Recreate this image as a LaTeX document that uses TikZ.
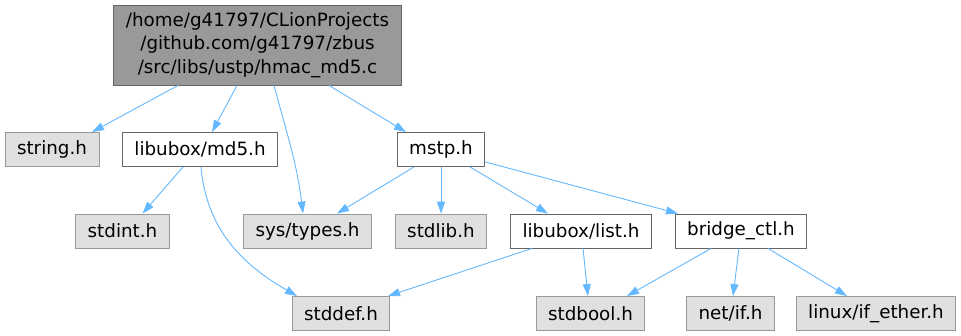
\documentclass[tikz,border=0pt]{standalone}
\usepackage{fontspec}
\setmainfont{DejaVu Sans}
\usetikzlibrary{arrows.meta}
\definecolor{edgeblue}{HTML}{63B8FF}
\definecolor{rootgray}{HTML}{999999}
\definecolor{darkline}{HTML}{666666}
\definecolor{lightfill}{HTML}{E0E0E0}

\begin{document}
\begin{tikzpicture}[
    x=1pt, y=1pt,
    box/.style={rectangle, draw=darkline, fill=white, line width=0.9pt, minimum height=34pt, inner xsep=12pt, font=\fontsize{18.3}{23.5}\selectfont, align=center},
    sysbox/.style={box, draw=rootgray, fill=lightfill},
    rootbox/.style={box, fill=rootgray, minimum height=80pt},
    arr/.style={-{Triangle[length=12pt, width=8pt]}, line width=0.9pt, edgeblue}
]
  \useasboundingbox (0,0) rectangle (961,335);

  \node[rootbox] (src) at (257.5,290) {/home/g41797/CLionProjects\\/github.com/g41797/zbus\hspace*{24pt}\\/src/libs/ustp/hmac\_md5.c};

  \node[sysbox] (str) at (52,185.5) {string.h};
  \node[box] (md5) at (200,185.5) {libubox/md5.h};
  \node[box] (mstp) at (441,185.5) {mstp.h};

  \node[sysbox] (stdint) at (122.5,104) {stdint.h};
  \node[sysbox] (types) at (307.5,104) {sys/types.h};
  \node[sysbox] (stdlib) at (441,104) {stdlib.h};
  \node[box] (list) at (581,104) {libubox/list.h};
  \node[box] (bridge) at (741,104) {bridge\_ctl.h};

  \node[sysbox] (stddef) at (341,21.5) {stddef.h};
  \node[sysbox] (stdbool) at (590.5,21.5) {stdbool.h};
  \node[sysbox] (netif) at (730.5,21.5) {net/if.h};
  \node[sysbox] (ether) at (876,21.5) {linux/if\_ether.h};

  \draw[arr] ([xshift=-79.5pt]src.south) -- ([xshift=40pt]str.north);
  \draw[arr] ([xshift=-20.5pt]src.south) -- ([xshift=12pt]md5.north);
  \draw[arr] ([xshift=16.5pt]src.south) to[out=-75, in=97] ([xshift=-4.5pt]types.north);
  \draw[arr] ([xshift=71.5pt]src.south) -- ([xshift=-35pt]mstp.north);

  \draw[arr] ([xshift=-17pt]md5.south) -- ([xshift=20pt]stdint.north);
  \draw[arr] ([xshift=1pt]md5.south) to[out=-85, in=150] ([xshift=-44pt]stddef.north);

  \draw[arr] ([xshift=-27pt]mstp.south) -- ([xshift=29.5pt]types.north);
  \draw[arr] (mstp.south) -- (stdlib.north);
  \draw[arr] ([xshift=29pt]mstp.south) -- ([xshift=-33pt]list.north);
  \draw[arr] ([yshift=5pt]mstp.south east) -- ([xshift=-63pt]bridge.north);

  \draw[arr] ([xshift=-49pt]list.south) -- ([xshift=47pt]stddef.north);
  \draw[arr] ([xshift=2pt]list.south) -- ([xshift=-2.5pt]stdbool.north);

  \draw[arr] ([xshift=-30pt]bridge.south) -- ([xshift=36.5pt]stdbool.north);
  \draw[arr] ([xshift=-2pt]bridge.south) -- ([xshift=2.5pt]netif.north);
  \draw[arr] ([xshift=27pt]bridge.south) -- ([xshift=-29pt]ether.north);
\end{tikzpicture}
\end{document}
